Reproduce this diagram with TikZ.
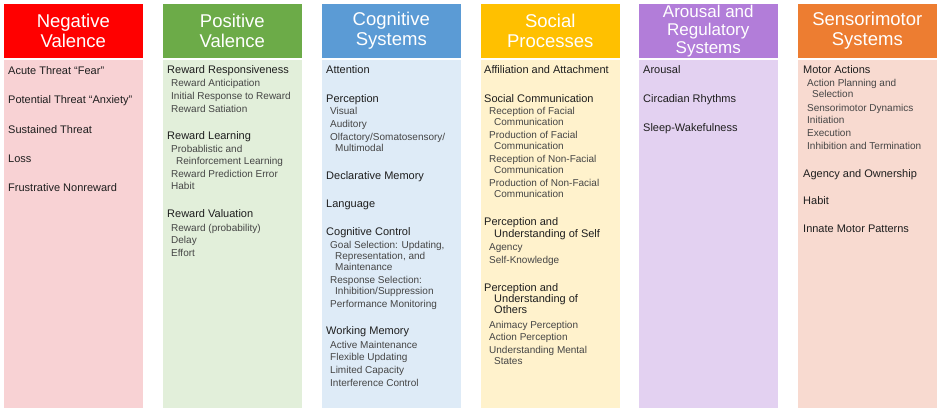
\documentclass[tikz,border=0pt]{standalone}
\usepackage{fontspec}
\setmainfont{Liberation Sans}
\usetikzlibrary{positioning}

\definecolor{negHead}{HTML}{FF0000}
\definecolor{negBody}{HTML}{F8D2D4}
\definecolor{posHead}{HTML}{6CAB48}
\definecolor{posBody}{HTML}{E2EFDA}
\definecolor{cogHead}{HTML}{5B9BD5}
\definecolor{cogBody}{HTML}{DEEBF7}
\definecolor{socHead}{HTML}{FFC000}
\definecolor{socBody}{HTML}{FFF2CC}
\definecolor{aroHead}{HTML}{B27DD9}
\definecolor{aroBody}{HTML}{E3D1F1}
\definecolor{senHead}{HTML}{ED7D31}
\definecolor{senBody}{HTML}{F8DAD0}
\definecolor{mainText}{HTML}{1E1E1E}
\definecolor{subText}{HTML}{454545}

\begin{document}
\begin{tikzpicture}
  [
    x = 1pt, y = -1pt,
    head/.style = {anchor=north west, minimum width=140pt, minimum height=55pt, inner sep=0pt,
                   draw=white, line width=0.6pt, text=white, align=center,
                   font=\fontsize{18.5}{20}\selectfont},
    body/.style = {below=0pt of #1, minimum width=140pt, minimum height=349pt, inner sep=0pt,
                   draw=white, line width=0.6pt},
    main/.style = {anchor=base west, inner sep=0pt, text=mainText, font=\fontsize{11}{13}\selectfont},
    sub/.style  = {anchor=base west, inner sep=0pt, text=subText, font=\fontsize{10}{12}\selectfont}
  ]
  \useasboundingbox (0,0) rectangle (940,410);

  % column heads and bodies
  \node[head, fill=negHead] (negHd) at (3,3) {Negative\\Valence};
  \node[head, fill=posHead] (posHd) at (162,3) {Positive\\Valence};
  \node[head, fill=cogHead] (cogHd) at (321,3) {Cognitive\\Systems};
  \node[head, fill=socHead] (socHd) at (480,3) {Social\\Processes};
  \node[head, fill=aroHead, font=\fontsize{17}{18}\selectfont] (aroHd) at (638,3) {Arousal and\\Regulatory\\Systems};
  \node[head, fill=senHead] (senHd) at (797,3) {Sensorimotor\\Systems};

  \node[body=negHd, fill=negBody] (negBd) {};
  \node[body=posHd, fill=posBody] (posBd) {};
  \node[body=cogHd, fill=cogBody] (cogBd) {};
  \node[body=socHd, fill=socBody] (socBd) {};
  \node[body=aroHd, fill=aroBody] (aroBd) {};
  \node[body=senHd, fill=senBody] (senBd) {};

  % negative valence
  \foreach \y/\t [count=\i] in {74/Acute Threat “Fear”, 103/Potential Threat “Anxiety”,
      133/Sustained Threat, 162/Loss, 191/Frustrative Nonreward}
    \node[main] (neg\i) at (8,\y) {\t};

  % positive valence
  \foreach \x/\y/\s/\t [count=\i] in {
      167/73/main/Reward Responsiveness, 171/86/sub/Reward Anticipation,
      171/99/sub/Initial Response to Reward, 171/112/sub/Reward Satiation,
      167/139/main/Reward Learning, 171/152/sub/Probablistic and,
      176/164/sub/Reinforcement Learning, 171/177/sub/Reward Prediction Error,
      171/189/sub/Habit,
      167/217/main/Reward Valuation, 171/231/sub/Reward (probability),
      171/243/sub/Delay, 171/256/sub/Effort}
    \node[\s] (pos\i) at (\x,\y) {\t};

  % cognitive systems
  \foreach \x/\y/\s/\t [count=\i] in {
      326/73/main/Attention,
      326/102/main/Perception, 330/114/sub/Visual, 330/127/sub/Auditory,
      330/140/sub/{Olfactory/Somatosensory/}, 335/151/sub/Multimodal,
      326/179/main/Declarative Memory,
      326/207/main/Language,
      326/235/main/Cognitive Control, 330/248/sub/{Goal Selection: Updating,},
      335/259/sub/{Representation, and}, 335/270/sub/Maintenance,
      330/283/sub/Response Selection:, 335/294/sub/{Inhibition/Suppression},
      330/307/sub/Performance Monitoring,
      326/334/main/Working Memory, 330/348/sub/Active Maintenance,
      330/360/sub/Flexible Updating, 330/373/sub/Limited Capacity,
      330/386/sub/Interference Control}
    \node[\s] (cog\i) at (\x,\y) {\t};

  % social processes
  \foreach \x/\y/\s/\t [count=\i] in {
      484/73/main/Affiliation and Attachment,
      484/102/main/Social Communication,
      489/114/sub/Reception of Facial, 494/125/sub/Communication,
      489/138/sub/Production of Facial, 494/149/sub/Communication,
      489/162/sub/Reception of Non-Facial, 494/173/sub/Communication,
      489/186/sub/Production of Non-Facial, 494/197/sub/Communication,
      484/225/main/Perception and, 494/237/main/Understanding of Self,
      489/250/sub/Agency, 489/263/sub/Self-Knowledge,
      484/291/main/Perception and, 494/302/main/Understanding of,
      494/313/main/Others,
      489/328/sub/Animacy Perception, 489/340/sub/Action Perception,
      489/353/sub/Understanding Mental, 494/364/sub/States}
    \node[\s] (soc\i) at (\x,\y) {\t};

  % arousal and regulatory systems
  \foreach \y/\t [count=\i] in {73/Arousal, 102/Circadian Rhythms, 131/Sleep-Wakefulness}
    \node[main] (aro\i) at (643,\y) {\t};

  % sensorimotor systems
  \foreach \x/\y/\s/\t [count=\i] in {
      803/73/main/Motor Actions, 807/86/sub/Action Planning and,
      812/97/sub/Selection, 807/111/sub/Sensorimotor Dynamics,
      807/123/sub/Initiation, 807/136/sub/Execution,
      807/149/sub/Inhibition and Termination,
      803/177/main/Agency and Ownership,
      803/204/main/Habit,
      803/232/main/Innate Motor Patterns}
    \node[\s] (sen\i) at (\x,\y) {\t};
\end{tikzpicture}
\end{document}
